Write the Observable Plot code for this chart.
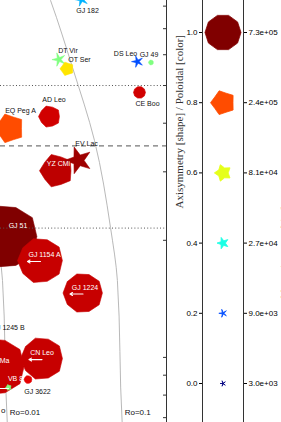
<!DOCTYPE html>
<html><head><meta charset="utf-8">
<script src="https://cdn.jsdelivr.net/npm/d3@7"></script>
<script src="https://cdn.jsdelivr.net/npm/@observablehq/plot@0.6"></script>
<style>
html,body{margin:0;padding:0;background:#fff;}
#wrap{position:relative;width:281px;height:422px;overflow:hidden;display:flex;}
#wrap svg{display:block;flex:none;overflow:hidden;}
</style></head><body><div id="wrap"></div>
<script>
// ---- data ----
const starNames = ["GJ 51","WX UMa","GJ 1154 A","CN Leo","GJ 1224","YZ CMi","EQ Peg A","EV Lac","AD Leo","GJ 1245 B","GJ 182","DT Vir","OT Ser","CE Boo","DS Leo","GJ 3622","VB 8","GJ 49"];
const period   = [1.083, 0.887, 2.142, 2.207, 5.02, 2.951, 1.151, 4.585, 2.565, 0.755, 4.87, 3.10, 3.64, 15.57, 14.96, 1.667, 1.128, 19.61];
const mass     = [0.2046, 0.0947, 0.1774, 0.0993, 0.1464, 0.302, 0.388, 0.321, 0.416, 0.1119, 0.832, 0.583, 0.552, 0.480, 0.576, 0.0877, 0.0837, 0.573];
const axisym   = [0.95, 0.95, 0.95, 0.95, 0.97, 0.85, 0.8, 0.4, 0.9, 0.9, 0.3, 0.3, 0.8, 1.0, 0.3, 0.95, 0.7, 0.9];
const poloidal = [1.0, 0.93, 0.93, 0.93, 0.93, 0.94, 0.8, 0.97, 0.92, 0.95, 0.3, 0.5, 0.65, 0.92, 0.2, 0.9, 0.5, 0.5];
const energy   = [4100000, 3050000, 1520000, 1240000, 1000000, 615000, 422000, 343000, 167000, 64000, 43000, 43000, 43000, 27000, 27000, 8000, 3400, 2000];
const periodUpperLimit = [0,0,1,1,1,0,0,0,0,0,0,0,0,0,0,0,1,0];

// Rossby-number curves: convective turnover time vs mass
const roCurveMass = [0.95, 0.827, 0.556, 0.361, 0.2157, 0.1576, 0.068, 0.06];
const roCurveTau  = [22, 26.2, 40.7, 63.2, 87.1, 100, 110, 113];
const roValues = [0.01, 0.1];
const roLabels = ["Ro=0.01", "Ro=0.1"];
const roLabelMass = 0.072, roLabelTau = 109;

const refMassDotted = [0.5, 0.215];
const refMassDashed = [0.35];
const massTicks = [0.07, 0.08, 0.09, 0.1, 0.2, 0.3, 0.4, 0.5, 0.6, 0.7, 0.8];

// legend
const legendAxis   = [0.0, 0.2, 0.4, 0.6, 0.8, 1.0];
const legendEnergy = [3000, 9000, 27000, 81000, 243000, 729000];
const yTitle = "Axisymmetry [shape] / Poloidal [color]";
const rightTitle = "Magnetic energy [size]";

// ---- label styling (offsets in px) ----
const labelDx = [11.5, -1, 4, 0, 2, 2, 11, 8, 4.5, 19.6, 6, 9, 12.5, 8, -12, 9.5, 7, -2];
const labelDy = [-10.5, -6, -6, -6, -5.5, -7, -18, -17, -16.5, -11, 11, -9, -9, 11, -8, 12, -9, -8];
const labelWhite = [1,1,1,1,1,1,0,0,0,0,0,0,0,0,0,0,1,0];

// ---- helpers ----
function jet(t) {
  const c = v => Math.max(0, Math.min(1, v));
  const r = c(1.5 - Math.abs(4 * t - 3)), g = c(1.5 - Math.abs(4 * t - 2)), b = c(1.5 - Math.abs(4 * t - 1));
  return d3.rgb(r * 255, g * 255, b * 255).formatHex();
}
function shape(a) {
  return {draw(ctx, size) {
    const R = Math.sqrt(size / Math.PI), r = R * a;
    for (let k = 0; k < 10; ++k) {
      const ang = Math.PI + k * Math.PI / 5;
      const rad = k % 2 ? r : R;
      const x = rad * Math.cos(ang), y = rad * Math.sin(ang);
      if (k) ctx.lineTo(x, y); else ctx.moveTo(x, y);
    }
    ctx.closePath();
  }};
}
const fmtE = e => e.toExponential(1).replace(/e([+-])(\d)$/, "e$10$2");
const rScale = {type: "pow", exponent: 1 / 3, domain: [0, 730000], range: [0, 18]};
const colorScale = {type: "linear", domain: [0, 1], interpolate: jet};
const sans = "Liberation Sans, Arial, Helvetica, sans-serif";
const serif = "Liberation Serif, Times New Roman, serif";

const stars = starNames.map((name, i) => ({name, P: period[i], M: mass[i], a: axisym[i], p: poloidal[i], E: energy[i], lim: periodUpperLimit[i], i}))
  .sort((u, v) => v.E - u.E);

const xDomain = [0.9607, 26.75];

const left = Plot.plot({
  width: 167, height: 422,
  marginLeft: 0, marginRight: 1, marginTop: 0, marginBottom: 0,
  style: {fontFamily: sans, background: "white", overflow: "hidden"},
  x: {type: "log", domain: xDomain, axis: null},
  y: {type: "log", domain: [0.06802, 0.8271], axis: null},
  r: rScale,
  color: colorScale,
  marks: [
    ...roValues.map(ro => Plot.line(roCurveMass.map((m, i) => ({m, P: ro * roCurveTau[i]})),
      {x: "P", y: "m", stroke: "#b0b0b0", strokeWidth: 0.9, curve: "monotone-y"})),
    ...stars.map(d => Plot.dot([d], {x: "P", y: "M", r: "E", fill: "p", stroke: "p", strokeWidth: 0.6, symbol: shape(d.a)})),
    Plot.arrow(stars.filter(d => d.lim), {x1: "P", x2: d => d.P * 0.77, y1: "M", y2: "M", dy: 1,
      stroke: "white", strokeWidth: 1.1, headLength: 4, bend: 0}),
    Plot.ruleY(refMassDotted, {stroke: "#555", strokeWidth: 1, strokeDasharray: "1,2.2"}),
    Plot.ruleY(refMassDashed, {stroke: "#777", strokeWidth: 1.3, strokeDasharray: "5,4"}),
    ...stars.map(d => Plot.text([d], {x: "P", y: "M", text: "name", dx: labelDx[d.i], dy: labelDy[d.i],
      fill: labelWhite[d.i] ? "white" : "#111", fontSize: 7})),
    Plot.text(roValues.map((ro, i) => ({P: ro * roLabelTau, t: roLabels[i]})),
      {x: "P", y: () => roLabelMass, text: "t", textAnchor: "start", dx: 3, fontSize: 8, fill: "#111"}),
    Plot.text(["o"], {text: d => d, frameAnchor: "bottom-left", dx: 5, dy: -10, textAnchor: "end", fontSize: 8, fill: "#111"}),
    Plot.axisY(massTicks, {anchor: "right", tickSize: 4, dx: -4, tickFormat: () => "", label: null, stroke: "#333"}),
    Plot.ruleX([xDomain[1]], {stroke: "#333", strokeWidth: 1})
  ]
});

const legendRows = legendAxis.map((v, i) => ({v, E: legendEnergy[i]}));
const legend = Plot.plot({
  width: 114, height: 422,
  marginLeft: 35, marginRight: 38, marginTop: 0, marginBottom: 0,
  style: {fontFamily: sans, background: "white", overflow: "hidden"},
  x: {domain: [0, 1], axis: null},
  y: {domain: [0, 1], range: [383, 32], axis: null},
  r: rScale,
  color: colorScale,
  marks: [
    Plot.ruleX([0, 1], {stroke: "#333", strokeWidth: 1}),
    ...legendRows.map(d => Plot.dot([d], {y: "v", r: "E", fill: "v", stroke: "v", strokeWidth: 0.8, symbol: shape(d.v)})),
    Plot.axisY(legendAxis, {anchor: "left", tickSize: 3, tickPadding: 2, tickFormat: d3.format(".1f"), fontSize: 8, label: null}),
    Plot.axisY(legendAxis, {anchor: "right", tickSize: 3, tickPadding: 2,
      tickFormat: d => fmtE(legendEnergy[legendAxis.indexOf(d)]), fontSize: 8, label: null}),
    Plot.text([yTitle], {text: d => d, frameAnchor: "left", dx: -23, dy: -3, rotate: -90, fontSize: 11, fontFamily: serif, fill: "#333"}),
    Plot.text([rightTitle], {text: d => d, frameAnchor: "right", dx: 41, dy: -5, rotate: -90, fontSize: 10, fontFamily: serif, fill: "#555"})
  ]
});

const wrap = document.getElementById("wrap");
wrap.appendChild(left);
wrap.appendChild(legend);
</script>
</body></html>
